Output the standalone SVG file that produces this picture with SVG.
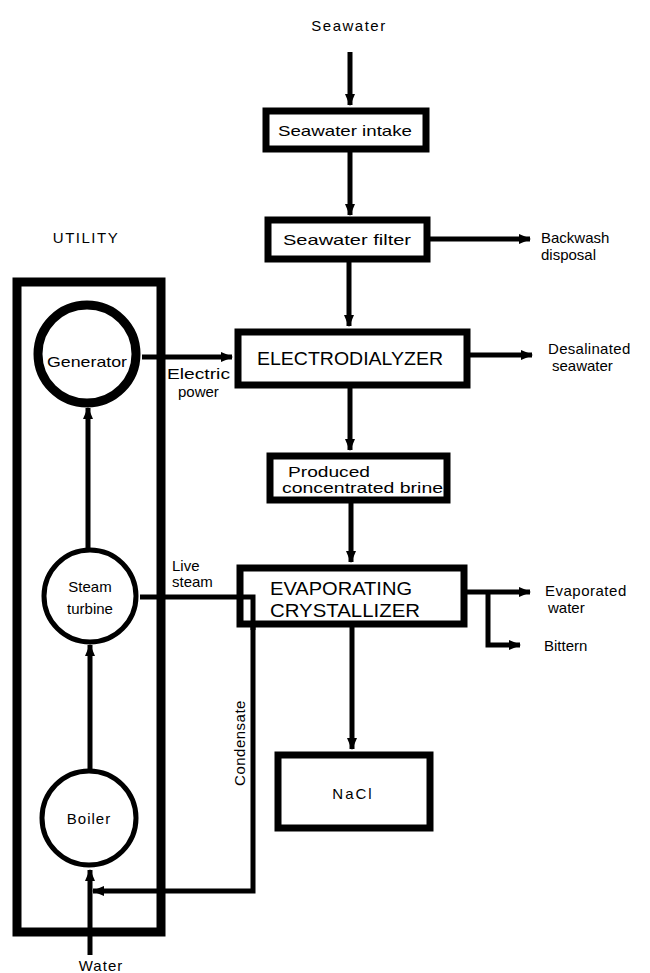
<svg xmlns="http://www.w3.org/2000/svg" width="650" height="973" viewBox="0 0 650 973">
<style>
text{font-family:"Liberation Sans",Arial,sans-serif;fill:#000;}
.lbl{font-size:15px;}
.box{fill:#fff;stroke:#000;stroke-width:7;}
.ln{fill:none;stroke:#000;stroke-width:5;}
.ring{fill:#fff;stroke:#000;stroke-width:5;}
</style>
<defs>
<marker id="ah" viewBox="0 0 12 10" refX="11" refY="5" markerWidth="12" markerHeight="10" markerUnits="userSpaceOnUse" orient="auto">
<path d="M0,0 L12,5 L0,10 Z" fill="#000"/>
</marker>
</defs>
<rect width="650" height="973" fill="#fff"/>

<g id="connectors">
<line class="ln" x1="350" y1="52" x2="350" y2="105" marker-end="url(#ah)"/>
<line class="ln" x1="350" y1="152" x2="350" y2="215" marker-end="url(#ah)"/>
<line class="ln" x1="349" y1="262" x2="349" y2="326" marker-end="url(#ah)"/>
<line class="ln" x1="430" y1="239" x2="530" y2="239" marker-end="url(#ah)"/>
<line class="ln" x1="470" y1="355" x2="532" y2="355" marker-end="url(#ah)"/>
<line class="ln" x1="350" y1="388" x2="350" y2="450" marker-end="url(#ah)"/>
<line class="ln" x1="351" y1="503" x2="351" y2="562" marker-end="url(#ah)"/>
<line class="ln" x1="467" y1="592" x2="530" y2="592" marker-end="url(#ah)"/>
<polyline class="ln" points="488,592 488,645 520,645" marker-end="url(#ah)"/>
<line class="ln" x1="352" y1="627" x2="352" y2="749" marker-end="url(#ah)"/>
<line class="ln" x1="142" y1="357" x2="232" y2="357" marker-end="url(#ah)"/>
<line class="ln" x1="88" y1="550" x2="88" y2="408" marker-end="url(#ah)"/>
<line class="ln" x1="90" y1="770" x2="90" y2="645" marker-end="url(#ah)"/>
<line class="ln" x1="90" y1="955" x2="90" y2="870" marker-end="url(#ah)"/>
<polyline class="ln" points="253,620 253,891 93,891" marker-end="url(#ah)"/>
</g>

<g id="utility">
<rect x="17" y="282" width="144" height="650" fill="none" stroke="#000" stroke-width="9"/>
<text class="lbl" x="86" y="243" text-anchor="middle" letter-spacing="1.5">UTILITY</text>
</g>

<g id="generator">
<circle cx="87" cy="354" r="49" fill="#fff" stroke="#000" stroke-width="9"/>
<text class="lbl" x="87" y="367" text-anchor="middle" textLength="80" lengthAdjust="spacingAndGlyphs">Generator</text>
</g>

<g id="steam-turbine">
<circle class="ring" cx="90" cy="596" r="46"/>
<text class="lbl" x="90" y="592" text-anchor="middle">Steam</text>
<text class="lbl" x="90" y="614" text-anchor="middle">turbine</text>
</g>

<g id="boiler">
<circle class="ring" cx="89" cy="818" r="47"/>
<text class="lbl" x="89" y="824" text-anchor="middle" letter-spacing="1">Boiler</text>
</g>

<g id="seawater-intake">
<rect class="box" x="266" y="111" width="160" height="38"/>
<text class="lbl" x="345" y="136" text-anchor="middle" textLength="134" lengthAdjust="spacingAndGlyphs">Seawater intake</text>
</g>

<g id="seawater-filter">
<rect class="box" x="268" y="220" width="159" height="39"/>
<text class="lbl" x="347" y="245" text-anchor="middle" textLength="128" lengthAdjust="spacingAndGlyphs">Seawater filter</text>
</g>

<g id="electrodialyzer">
<rect class="box" x="238" y="332" width="229" height="53" stroke-width="8"/>
<text x="350" y="365" text-anchor="middle" font-size="19" textLength="186" lengthAdjust="spacingAndGlyphs">ELECTRODIALYZER</text>
</g>

<g id="brine">
<rect class="box" x="270" y="456" width="177" height="44"/>
<text class="lbl" x="288" y="477" textLength="82" lengthAdjust="spacingAndGlyphs">Produced</text>
<text class="lbl" x="282" y="493" textLength="161" lengthAdjust="spacingAndGlyphs">concentrated brine</text>
</g>

<g id="crystallizer">
<rect class="box" x="240" y="568" width="224" height="56"/>
<text x="270" y="595" font-size="18" textLength="142" lengthAdjust="spacingAndGlyphs">EVAPORATING</text>
<text x="270" y="617" font-size="18" textLength="150" lengthAdjust="spacingAndGlyphs">CRYSTALLIZER</text>
</g>

<g id="live-steam">
<polyline class="ln" points="140,597 253,597 253,630"/>
</g>

<g id="nacl">
<rect class="box" x="278" y="755" width="152" height="73"/>
<text class="lbl" x="353" y="799" text-anchor="middle" letter-spacing="2">NaCl</text>
</g>

<g id="labels">
<text class="lbl" x="349" y="31" text-anchor="middle" letter-spacing="1.5">Seawater</text>
<text class="lbl" x="541" y="243">Backwash</text>
<text class="lbl" x="541" y="260">disposal</text>
<text class="lbl" x="167" y="379" textLength="63" lengthAdjust="spacingAndGlyphs">Electric</text>
<text class="lbl" x="178" y="397">power</text>
<text class="lbl" x="548" y="354" letter-spacing="0.3">Desalinated</text>
<text class="lbl" x="552" y="371">seawater</text>
<text class="lbl" x="172" y="571">Live</text>
<text class="lbl" x="172" y="587">steam</text>
<text class="lbl" x="545" y="596" letter-spacing="0.5">Evaporated</text>
<text class="lbl" x="548" y="613">water</text>
<text class="lbl" x="544" y="651">Bittern</text>
<text class="lbl" x="0" y="0" transform="translate(245,743) rotate(-90)" text-anchor="middle" letter-spacing="0.5">Condensate</text>
<text class="lbl" x="101" y="971" text-anchor="middle" letter-spacing="1">Water</text>
</g>
</svg>
